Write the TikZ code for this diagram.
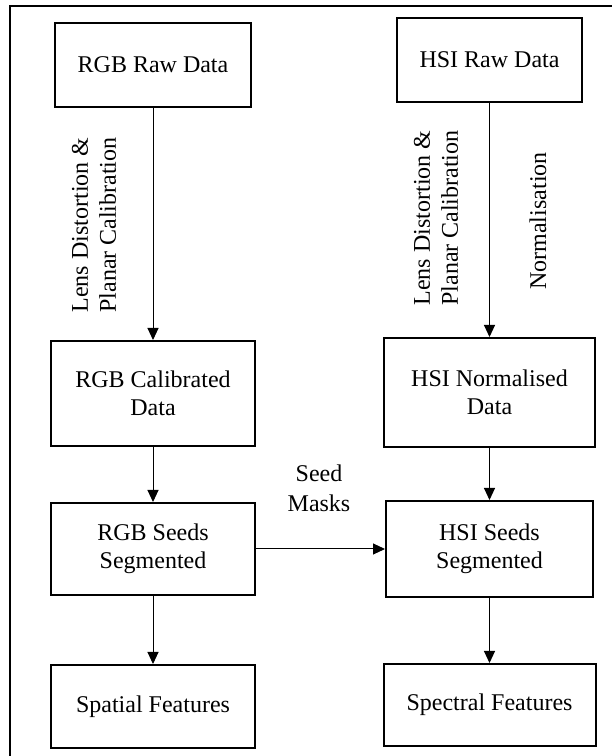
\documentclass[tikz,border=0pt]{standalone}
\usepackage{fontspec}
\setmainfont{Liberation Serif}
\usetikzlibrary{arrows.meta}
\tikzset{
  box/.style={draw, line width=2pt, align=center, inner sep=0pt, font=\fontsize{24}{27.5}\selectfont},
  lbl/.style={align=center, inner sep=0pt, font=\fontsize{24}{28}\selectfont},
  flow/.style={line width=1pt, -{Triangle[length=12pt,width=11pt]}}
}
\begin{document}
\begin{tikzpicture}[x=1pt,y=1pt]
\useasboundingbox (0,0) rectangle (612,756);
% frame (only top and left edges visible)
\draw[line width=1.4pt] (10,0) -- (10,750) -- (612,750);
% nodes
\node[box, minimum width=196, minimum height=84] (rraw) at (153,691) {RGB Raw Data};
\node[box, minimum width=204, minimum height=105] (rcal) at (153,362.5) {RGB Calibrated\\Data};
\node[box, minimum width=204, minimum height=92] (rseg) at (153,207) {RGB Seeds\\Segmented};
\node[box, minimum width=204, minimum height=83] (rspa) at (153,49.5) {Spatial Features};
\node[box, minimum width=185, minimum height=84] (hraw) at (489.5,696) {HSI Raw Data};
\node[box, minimum width=211, minimum height=109] (hnor) at (489.5,363.5) {HSI Normalised\\Data};
\node[box, minimum width=207, minimum height=96] (hseg) at (489.5,207) {HSI Seeds\\Segmented};
\node[box, minimum width=212, minimum height=82] (hspe) at (489.5,51) {Spectral Features};
% labels
\node[lbl, rotate=90] (l1) at (94,531) {Lens Distortion \&\\Planar Calibration};
\node[lbl, rotate=90] (l2) at (436,538) {Lens Distortion \&\\Planar Calibration};
\node[lbl, rotate=90] (l3) at (538,535) {Normalisation};
\node[lbl, font=\fontsize{24}{30}\selectfont] (l4) at (319,268) {Seed\\Masks};
% connectors
\draw[flow] (rraw) -- (rcal);
\draw[flow] (rcal) -- (rseg);
\draw[flow] (rseg) -- (rspa);
\draw[flow] (hraw) -- (hnor);
\draw[flow] (hnor) -- (hseg);
\draw[flow] (hseg) -- (hspe);
\draw[flow] (rseg.east) -- (hseg.west);
\end{tikzpicture}
\end{document}
